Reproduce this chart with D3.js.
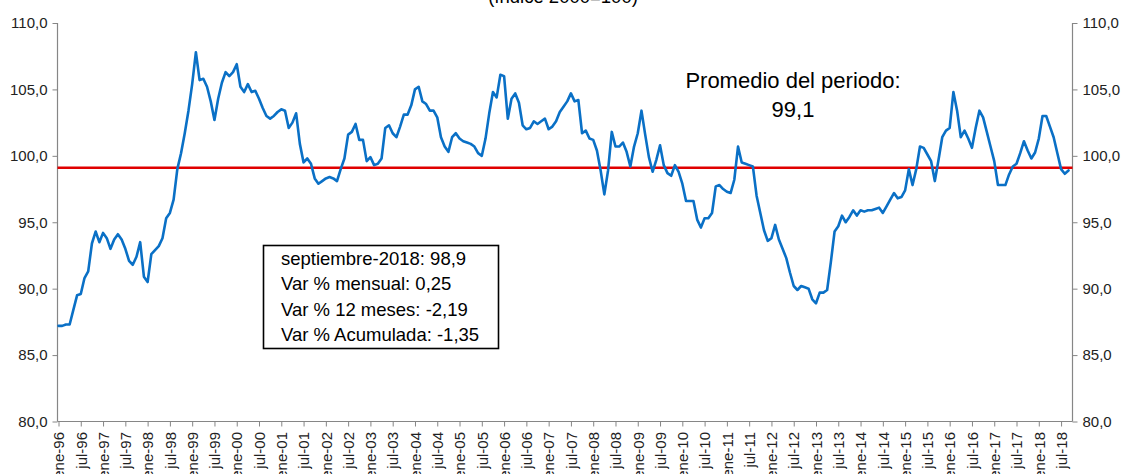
<!DOCTYPE html>
<html>
<head>
<meta charset="utf-8">
<script src="https://cdn.jsdelivr.net/npm/d3@7/dist/d3.min.js"></script>
<style>
  html, body { margin: 0; padding: 0; background: #fff; }
  svg { display: block; font-family: "Liberation Sans", Arial, sans-serif; }
</style>
</head>
<body>
<svg id="chart" width="1123" height="474"></svg>
<script>
// ---------- data ----------
const monthNames = ["ene","feb","mar","abr","may","jun","jul","ago","sep","oct","nov","dic"];
const startYear = 1996;
const values1996 = [87.2, 87.2, 87.3, 87.3, 88.4, 89.5, 89.6, 90.8, 91.3, 93.4, 94.3, 93.5];
const values1997 = [94.2, 93.8, 93.0, 93.7, 94.1, 93.7, 93.0, 92.1, 91.8, 92.4, 93.5, 90.9];
const values1998 = [90.5, 92.6, 92.9, 93.2, 93.8, 95.3, 95.7, 96.7, 99.0, 100.2, 101.7, 103.4];
const values1999 = [105.4, 107.8, 105.7, 105.8, 105.2, 104.1, 102.7, 104.3, 105.5, 106.3, 106.0, 106.3];
const values2000 = [106.9, 105.2, 104.8, 105.4, 104.8, 104.9, 104.3, 103.6, 103.0, 102.8, 103.0, 103.3];
const values2001 = [103.5, 103.4, 102.1, 102.5, 103.2, 100.9, 99.5, 99.8, 99.4, 98.3, 97.9, 98.1];
const values2002 = [98.3, 98.4, 98.3, 98.1, 99.0, 99.8, 101.6, 101.8, 102.4, 101.2, 101.2, 99.6];
const values2003 = [99.9, 99.3, 99.4, 99.8, 102.1, 102.3, 101.7, 101.4, 102.2, 103.1, 103.1, 103.8];
const values2004 = [105.0, 105.2, 104.1, 103.9, 103.4, 103.4, 102.9, 101.4, 100.7, 100.3, 101.4, 101.7];
const values2005 = [101.3, 101.1, 101.0, 100.9, 100.7, 100.2, 100.0, 101.3, 103.2, 104.8, 104.4, 106.1];
const values2006 = [106.0, 102.8, 104.3, 104.7, 104.0, 102.3, 102.0, 102.1, 102.6, 102.4, 102.6, 102.8];
const values2007 = [102.0, 102.2, 102.6, 103.3, 103.7, 104.1, 104.7, 104.1, 104.2, 101.7, 101.9, 101.3];
const values2008 = [101.2, 100.4, 98.9, 97.1, 98.9, 101.8, 100.7, 100.7, 101.0, 100.3, 99.2, 100.7];
const values2009 = [101.7, 103.4, 101.6, 99.9, 98.8, 99.7, 100.8, 99.3, 98.7, 98.5, 99.3, 98.8];
const values2010 = [97.9, 96.6, 96.6, 96.6, 95.2, 94.6, 95.3, 95.3, 95.7, 97.7, 97.8, 97.5];
const values2011 = [97.3, 97.2, 98.2, 100.7, 99.5, 99.4, 99.3, 99.2, 97.0, 95.7, 94.4, 93.6];
const values2012 = [93.8, 94.8, 93.7, 93.0, 92.3, 91.2, 90.2, 89.9, 90.2, 90.1, 90.0, 89.2];
const values2013 = [88.9, 89.7, 89.7, 89.9, 92.0, 94.3, 94.7, 95.5, 95.0, 95.4, 95.9, 95.5];
const values2014 = [95.9, 95.8, 95.9, 95.9, 96.0, 96.1, 95.7, 96.2, 96.7, 97.2, 96.8, 96.9];
const values2015 = [97.4, 99.0, 97.8, 99.0, 100.7, 100.6, 100.1, 99.6, 98.1, 99.7, 101.4, 101.9];
const values2016 = [102.1, 104.8, 103.4, 101.4, 101.9, 101.3, 100.6, 102.1, 103.4, 102.9, 101.8, 100.7];
const values2017 = [99.6, 97.8, 97.8, 97.8, 98.6, 99.2, 99.4, 100.2, 101.1, 100.4, 99.8, 100.25];
const values2018 = [101.3, 103.0, 103.0, 102.2, 101.4, 100.2, 99.0, 98.65, 98.9];
const promedio = 99.1;
const yTicks = [80, 85, 90, 95, 100, 105, 110];
const boxLines = ["septiembre-2018: 98,9", "Var % mensual: 0,25", "Var % 12 meses: -2,19", "Var % Acumulada: -1,35"];
const promedioLines = ["Promedio del periodo:", "99,1"];
const titleText = "(índice 2000=100)";

const values = [].concat(values1996, values1997, values1998, values1999, values2000,
  values2001, values2002, values2003, values2004, values2005, values2006, values2007,
  values2008, values2009, values2010, values2011, values2012, values2013, values2014,
  values2015, values2016, values2017, values2018);
const categories = values.map((v, i) => {
  const yr = startYear + Math.floor(i / 12);
  return monthNames[i % 12] + "-" + String(yr % 100).padStart(2, "0");
});
const tickCats = categories.filter((c, i) => i % 6 === 0);
const data = categories.map((c, i) => ({cat: c, value: values[i]}));

// ---------- layout ----------
const svg = d3.select("#chart");
const plotL = 57.5, plotR = 1072.5, plotT = 23, plotB = 421.5;

const x = d3.scalePoint().domain(categories).range([58.5, 1068.5]);
const y = d3.scaleLinear().domain([80, 110]).range([plotB, plotT]);
const fmt = d => d3.format(".1f")(d).replace(".", ",");

// title (partially cut at top, as in the reference)
svg.append("text").attr("x", 563).attr("y", 2.5).attr("text-anchor", "middle")
  .attr("font-size", 18.5).attr("fill", "#000").text(titleText);

// left & right axes
const yl = svg.append("g").attr("transform", `translate(${plotL},0)`)
  .call(d3.axisLeft(y).tickValues(yTicks).tickSize(5).tickPadding(5).tickFormat(fmt));
const yrAxis = svg.append("g").attr("transform", `translate(${plotR},0)`)
  .call(d3.axisRight(y).tickValues(yTicks).tickSize(5).tickPadding(5).tickFormat(fmt));
[yl, yrAxis].forEach(g => {
  g.select(".domain").attr("stroke", "#868686").attr("stroke-width", 1.2)
    .attr("d", `M0,${plotT}V${plotB}`);
  g.selectAll(".tick line").attr("stroke", "#868686");
  g.selectAll(".tick text").attr("font-size", 15).attr("fill", "#222")
    .attr("font-family", "Liberation Sans, Arial, sans-serif");
});

// bottom axis
const xa = svg.append("g").attr("transform", `translate(0,${plotB})`)
  .call(d3.axisBottom(x).tickValues(tickCats).tickSize(5).tickPadding(4));
xa.select(".domain").attr("stroke", "#868686").attr("stroke-width", 1.2)
  .attr("d", `M${plotL},0H${plotR}`);
xa.selectAll(".tick line").attr("stroke", "#868686");
xa.selectAll(".tick text")
  .attr("font-size", 15).attr("fill", "#222")
  .attr("font-family", "Liberation Sans, Arial, sans-serif")
  .attr("text-anchor", "end")
  .attr("transform", "rotate(-90)")
  .attr("x", -10.5).attr("y", 0).attr("dy", "0.35em");

// red average line
svg.append("line")
  .attr("x1", plotL).attr("x2", plotR)
  .attr("y1", y(promedio)).attr("y2", y(promedio))
  .attr("stroke", "#e00000").attr("stroke-width", 2.5);

// series line
svg.append("path").datum(data)
  .attr("fill", "none").attr("stroke", "#0a70c6").attr("stroke-width", 2.6)
  .attr("stroke-linejoin", "round").attr("stroke-linecap", "round")
  .attr("d", d3.line().x(d => x(d.cat)).y(d => y(d.value)));

// promedio annotation
const pt = svg.append("text").attr("text-anchor", "middle").attr("font-size", 22)
  .attr("fill", "#000");
promedioLines.forEach((t, i) => {
  pt.append("tspan").attr("x", 793).attr("y", 88 + i * 29).text(t);
});

// info box
svg.append("rect").attr("x", 263.5).attr("y", 245.5).attr("width", 235).attr("height", 103)
  .attr("fill", "#fff").attr("stroke", "#000").attr("stroke-width", 1.6);
boxLines.forEach((t, i) => {
  svg.append("text").attr("x", 281).attr("y", 264.5 + i * 25.6)
    .attr("font-size", 18.5).attr("fill", "#000").text(t);
});
</script>
</body>
</html>
